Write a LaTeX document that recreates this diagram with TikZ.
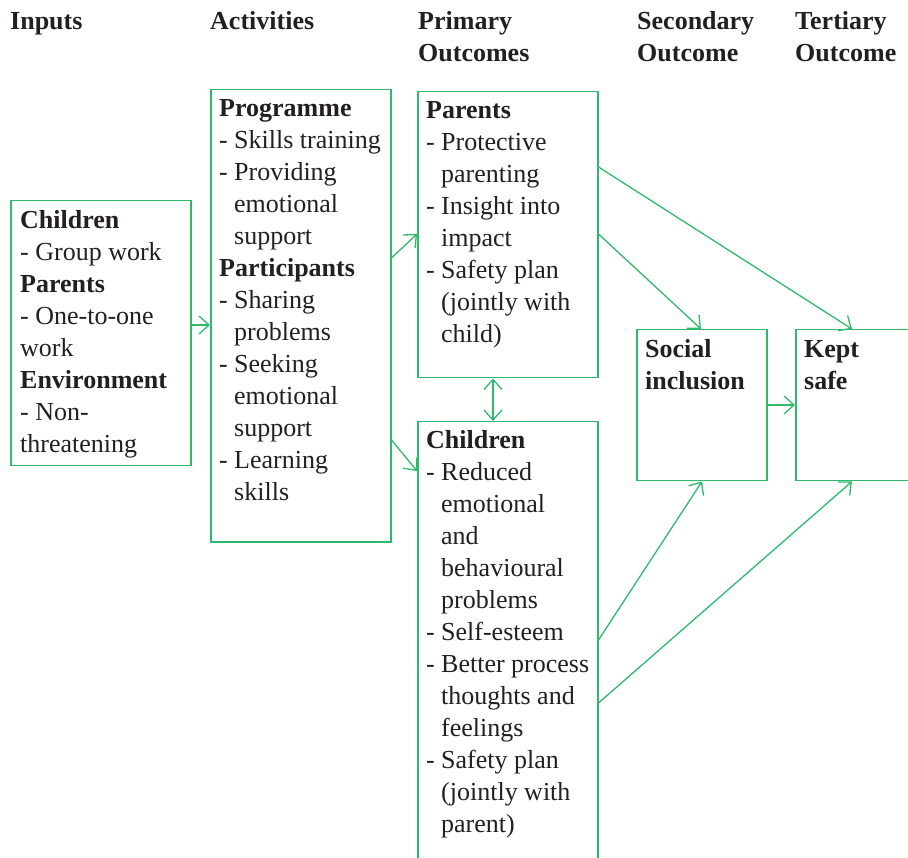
\documentclass[tikz,border=0pt]{standalone}
\usepackage{fontspec}
\setmainfont{Liberation Serif}
\usetikzlibrary{arrows.meta}
\definecolor{lgreen}{RGB}{46,186,108}
\definecolor{ink}{RGB}{35,31,32}
\newcommand{\di}[1]{\makebox[15pt][l]{-}#1}
\newcommand{\ci}[1]{\hspace*{15pt}#1}
\begin{document}
\begin{tikzpicture}[x=1pt,y=-1pt,
  box/.style={draw=lgreen,line width=1.5pt,rectangle,inner sep=0pt,anchor=north west},
  txt/.style={anchor=base west,inner sep=0pt,text=ink,font=\fontsize{26}{32}\selectfont},
  head/.style={txt,font=\fontsize{26}{32}\selectfont\bfseries},
  tip/.tip={Straight Barb[length=10pt,width=18pt,line width=1.3pt]},
  arr/.style={draw=lgreen,line width=1.3pt,-tip},
  darr/.style={draw=lgreen,line width=1.3pt,tip-tip}]
\clip (0,0) rectangle (908,858);
% headers
\node[head] (h1) at (10,30) {Inputs};
\node[head] (h2) at (210,30) {Activities};
\node[head] (h3) at (418,30) {\begin{tabular}[t]{@{}l@{}}Primary\\Outcomes\end{tabular}};
\node[head] (h4) at (637,30) {\begin{tabular}[t]{@{}l@{}}Secondary\\Outcome\end{tabular}};
\node[head] (h5) at (795,30) {\begin{tabular}[t]{@{}l@{}}Tertiary\\Outcome\end{tabular}};
% boxes
\node[box,minimum width=180pt,minimum height=265pt] (inp) at (10,200) {};
\node[box,minimum width=180pt,minimum height=452pt] (act) at (210,89) {};
\node[box,minimum width=180pt,minimum height=286pt] (par) at (417,91) {};
\node[box,minimum width=180pt,minimum height=480pt] (chi) at (417,421) {};
\node[box,minimum width=130pt,minimum height=151pt] (soc) at (636,329) {};
\node[box,minimum width=140pt,minimum height=151pt] (kep) at (795,329) {};
% texts
\node[txt] (tinp) at (20,229) {\begin{tabular}[t]{@{}l@{}}
\textbf{Children}\\
- Group work\\
\textbf{Parents}\\
- One-to-one\\
work\\
\textbf{Environment}\\
- Non-\\
threatening\end{tabular}};
\node[txt] (tact) at (219,117) {\begin{tabular}[t]{@{}l@{}}
\textbf{Programme}\\
\di{Skills training}\\
\di{Providing}\\
\ci{emotional}\\
\ci{support}\\
\textbf{Participants}\\
\di{Sharing}\\
\ci{problems}\\
\di{Seeking}\\
\ci{emotional}\\
\ci{support}\\
\di{Learning}\\
\ci{skills}\end{tabular}};
\node[txt] (tpar) at (426,119) {\begin{tabular}[t]{@{}l@{}}
\textbf{Parents}\\
\di{Protective}\\
\ci{parenting}\\
\di{Insight into}\\
\ci{impact}\\
\di{Safety plan}\\
\ci{(jointly with}\\
\ci{child)}\end{tabular}};
\node[txt] (tchi) at (426,449) {\begin{tabular}[t]{@{}l@{}}
\textbf{Children}\\
\di{Reduced}\\
\ci{emotional}\\
\ci{and}\\
\ci{behavioural}\\
\ci{problems}\\
\di{Self-esteem}\\
\di{Better process}\\
\ci{thoughts and}\\
\ci{feelings}\\
\di{Safety plan}\\
\ci{(jointly with}\\
\ci{parent)}\end{tabular}};
\node[head] (tsoc) at (645,358) {\begin{tabular}[t]{@{}l@{}}Social\\inclusion\end{tabular}};
\node[head] (tkep) at (804,358) {\begin{tabular}[t]{@{}l@{}}Kept\\safe\end{tabular}};
% connectors
\draw[arr] (inp.east |- 0,325) -- (act.west |- 0,325);
\draw[arr] (act.east |- 0,258) -- (par.west |- 0,234);
\draw[arr] (act.east |- 0,440) -- (chi.west |- 0,471);
\draw[darr] (493,0 |- par.south) -- (493,0 |- chi.north);
\draw[arr] (par.east |- 0,167) -- (852,0 |- kep.north);
\draw[arr] (par.east |- 0,234) -- (701,0 |- soc.north);
\draw[arr] (soc.east |- 0,405) -- (kep.west |- 0,405);
\draw[arr] (chi.east |- 0,640) -- (702,0 |- soc.south);
\draw[arr] (chi.east |- 0,703) -- (852,0 |- kep.south);
\end{tikzpicture}
\end{document}
